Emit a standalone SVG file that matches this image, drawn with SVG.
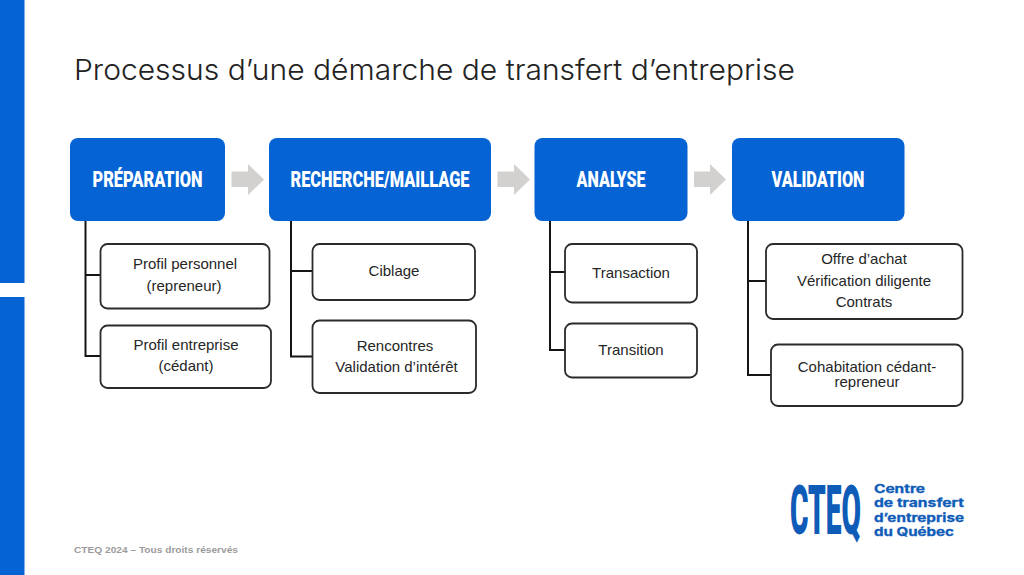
<svg xmlns="http://www.w3.org/2000/svg" width="1024" height="575" viewBox="0 0 1024 575">
<style>
.head{fill:#0563d4}
.sub{fill:#fff;stroke:#2b2b2b;stroke-width:1.8}
.hd{font-family:Roboto,"Liberation Sans",Arial,sans-serif;font-weight:900;font-size:22.5px;fill:#fff;text-anchor:middle}
.t{font-family:"Liberation Sans",Arial,sans-serif;font-size:15px;fill:#262626;text-anchor:middle}
.lg{font-family:Inter,"Liberation Sans",Arial,sans-serif;font-weight:700;font-size:11.8px;fill:#0f5cb8;stroke:#0f5cb8;stroke-width:.3}
.conn{fill:none;stroke:#151515;stroke-width:2}
.arr{fill:#d3d1d0}
</style>
<rect width="1024" height="575" fill="#fff"/>
<rect x="0" y="0" width="24.5" height="283" fill="#0563d4"/>
<rect x="0" y="297" width="24.5" height="278" fill="#0563d4"/>
<text x="74" y="80" font-family="Inter,'Liberation Sans',sans-serif" font-weight="300" font-size="29px" fill="#222" textLength="721" lengthAdjust="spacingAndGlyphs">Processus d’une démarche de transfert d’entreprise</text>
<g id="connectors">
<path class="conn" d="M85.5 221V356H100M85.5 275H100"/>
<path class="conn" d="M291 221V356.5H312.5M291 271H312.5"/>
<path class="conn" d="M550 221V350H565M550 272H565"/>
<path class="conn" d="M748 221V375H771M748 281H766"/>
<polygon class="arr" points="231.500,171.500 248,171.500 248,164 264,179.500 248,195 248,187 231.500,187"/>
<polygon class="arr" points="497.500,171.500 514,171.500 514,164 530,179.500 514,195 514,187 497.500,187"/>
<polygon class="arr" points="694,171.500 710,171.500 710,164 726,179.500 710,195 710,187 694,187"/>
</g>
<g id="preparation"><rect class="head" x="70" y="138" width="155" height="83" rx="8"/><text class="hd" x="147.500" y="186.500" textLength="110" lengthAdjust="spacingAndGlyphs">PRÉPARATION</text></g>
<g id="recherche"><rect class="head" x="269" y="138" width="222" height="83" rx="8"/><text class="hd" x="380" y="186.500" textLength="179" lengthAdjust="spacingAndGlyphs">RECHERCHE/MAILLAGE</text></g>
<g id="analyse"><rect class="head" x="534.500" y="138" width="153" height="83" rx="8"/><text class="hd" x="611" y="186.500" textLength="69" lengthAdjust="spacingAndGlyphs">ANALYSE</text></g>
<g id="validation"><rect class="head" x="732" y="138" width="172.500" height="83" rx="8"/><text class="hd" x="818" y="186.500" textLength="93" lengthAdjust="spacingAndGlyphs">VALIDATION</text></g>
<g id="profil-personnel"><rect class="sub" x="100.500" y="244" width="169" height="64.500" rx="7"/><text class="t" x="185" y="269">Profil personnel</text><text class="t" x="184" y="291">(repreneur)</text></g>
<g id="profil-entreprise"><rect class="sub" x="100.500" y="325.500" width="170.500" height="62.500" rx="7"/><text class="t" x="186" y="349.500">Profil entreprise</text><text class="t" x="186" y="371">(cédant)</text></g>
<g id="ciblage"><rect class="sub" x="312.500" y="244" width="162.500" height="56" rx="7"/><text class="t" x="394" y="276">Ciblage</text></g>
<g id="rencontres"><rect class="sub" x="312.500" y="320.500" width="163.500" height="72.500" rx="7"/><text class="t" x="395" y="350.500">Rencontres</text><text class="t" x="396.500" y="372">Validation d’intérêt</text></g>
<g id="transaction"><rect class="sub" x="565" y="244" width="132" height="58.500" rx="7"/><text class="t" x="631" y="277.500">Transaction</text></g>
<g id="transition"><rect class="sub" x="565" y="323.500" width="132" height="54" rx="7"/><text class="t" x="631" y="355">Transition</text></g>
<g id="offre"><rect class="sub" x="766" y="244" width="196.500" height="75" rx="7"/><text class="t" x="864" y="264">Offre d’achat</text><text class="t" x="864" y="286">Vérification diligente</text><text class="t" x="864" y="307">Contrats</text></g>
<g id="cohabitation"><rect class="sub" x="771" y="344.500" width="191.500" height="61.500" rx="7"/><text class="t" x="867" y="372">Cohabitation cédant-</text><text class="t" x="867" y="387">repreneur</text></g>
<text x="74" y="553" font-family="'Liberation Sans',Arial,sans-serif" font-weight="700" font-size="9.500px" fill="#9b9b9b" textLength="164" lengthAdjust="spacingAndGlyphs">CTEQ 2024 – Tous droits réservés</text>
<g id="logo">
<text x="790" y="533.500" font-family="Roboto,'Liberation Sans',Arial,sans-serif" font-weight="900" font-size="68px" fill="#0f5cb8" textLength="71" lengthAdjust="spacingAndGlyphs">CTEQ</text>
<text class="lg" x="874" y="492.500" textLength="51" lengthAdjust="spacingAndGlyphs">Centre</text>
<text class="lg" x="874" y="507" textLength="90" lengthAdjust="spacingAndGlyphs">de transfert</text>
<text class="lg" x="874" y="521.500" textLength="90" lengthAdjust="spacingAndGlyphs">d’entreprise</text>
<text class="lg" x="874" y="536" textLength="80" lengthAdjust="spacingAndGlyphs">du Québec</text>
</g>
</svg>
